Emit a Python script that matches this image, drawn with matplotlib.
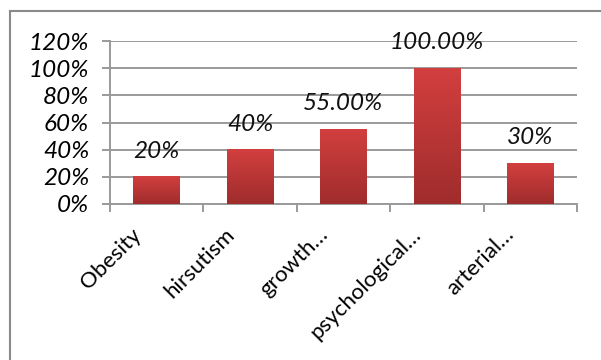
import matplotlib
matplotlib.use("Agg")
import matplotlib.pyplot as plt
from matplotlib.lines import Line2D
from matplotlib.colors import LinearSegmentedColormap
import numpy as np

categories = ["Obesity", "hirsutism", "growth…", "psychological…", "arterial…"]
values = [20, 40, 55, 100, 30]
labels = ["20%", "40%", "55.00%", "100.00%", "30%"]
yticks = [0, 20, 40, 60, 80, 100, 120]

plt.rcParams["font.family"] = ["Lato", "DejaVu Sans"]
GRID = "#9a9a9a"
BAR = LinearSegmentedColormap.from_list("bar", ["#a02c2c", "#d23f3f"])

fig = plt.figure(figsize=(6.01, 3.6), dpi=100)
ax = fig.add_axes([110/601, 1-204/360, 467/601, 163/360])

x = np.arange(len(categories))
w = 0.5
grad = np.linspace(0, 1, 100).reshape(-1, 1)
for xi, v, lab in zip(x, values, labels):
    ax.imshow(grad, cmap=BAR, origin="lower", aspect="auto",
              extent=(xi - w/2, xi + w/2, 0, v), zorder=3)
    ax.text(xi, v + 11, lab, ha="center", va="bottom", fontsize=17.5,
            style="italic", color="#111111", zorder=4)

ax.set_xlim(-0.5, len(categories) - 0.5)
ax.set_ylim(0, 120)
ax.set_yticks(yticks)
ax.set_yticklabels([f"{t}%" for t in yticks], fontsize=17.5, style="italic")
ax.yaxis.grid(True, color=GRID, lw=1.4, zorder=1)
ax.set_axisbelow(True)
ax.set_xticks(np.arange(len(categories) + 1) - 0.5)
ax.set_xticklabels([])
ax.tick_params(axis="x", length=6, color=GRID, width=1.4, direction="out")
ax.tick_params(axis="y", length=6, color=GRID, width=1.4, direction="out", pad=9)
for xi, c in zip(x, categories):
    ax.text(xi - 0.28, -15, c, rotation=45, ha="right", va="top",
            rotation_mode="anchor", fontsize=16, clip_on=False)
for s in ["top", "right"]:
    ax.spines[s].set_visible(False)
ax.spines["left"].set_color(GRID); ax.spines["left"].set_linewidth(1.4)
ax.spines["bottom"].set_color(GRID); ax.spines["bottom"].set_linewidth(1.4)

# outer chart frame
fig.add_artist(Line2D([10/601, 10/601], [0, 1-11/360], color="#8a8a8a", lw=1.5))
fig.add_artist(Line2D([10/601, 1], [1-11/360, 1-11/360], color="#8a8a8a", lw=1.5))

fig.savefig("out.png", dpi=100)
